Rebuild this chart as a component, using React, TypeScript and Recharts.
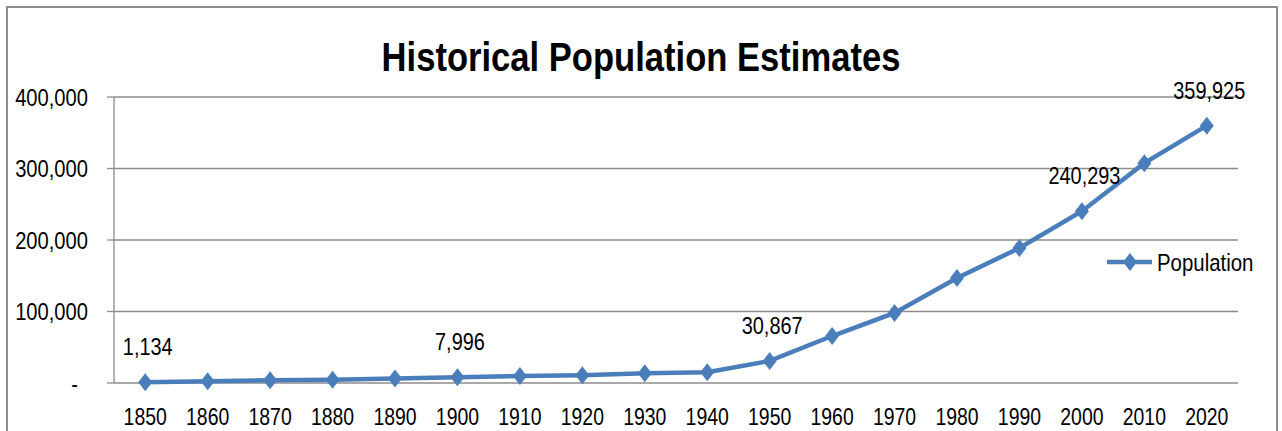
import React from 'react';
import { LineChart, Line, XAxis, YAxis, CartesianGrid, LabelList } from 'recharts';

const title = 'Historical Population Estimates';
const seriesName = 'Population';
const years = [1850, 1860, 1870, 1880, 1890, 1900, 1910, 1920, 1930, 1940, 1950, 1960, 1970, 1980, 1990, 2000, 2010, 2020];
const population = [1134, 2500, 3800, 4700, 6200, 7996, 9800, 10800, 13500, 15000, 30867, 65700, 98000, 146800, 188800, 240293, 307500, 359925];
const labeledYears = [1850, 1900, 1950, 2000, 2020];
const yTicks = [0, 100000, 200000, 300000, 400000];

const data = years.map((year, i) => ({ year, population: population[i] }));
const boundaryTicks = [...years.map((y) => y - 5), years[years.length - 1] + 5];
const xDomain = [years[0] - 5, years[years.length - 1] + 5];

const BLUE = '#4a7ebb';
const GRID = '#8c8c8c';
const FONT = "'Liberation Sans', Arial, sans-serif";
const FS = 24;

const fmt = (v: number) => v.toLocaleString('en-US');

// text narrowed horizontally around its anchor point
const SText = (p: {
  x: number; y: number; sx: number; anchor: 'start' | 'middle' | 'end'; dy?: string;
  size?: number; weight?: string; children: React.ReactNode;
}) => (
  <text
    transform={`translate(${p.x},${p.y}) scale(${p.sx},1)`}
    x={0}
    y={0}
    dy={p.dy}
    textAnchor={p.anchor}
    fontFamily={FONT}
    fontSize={p.size ?? FS}
    fontWeight={p.weight ?? 'normal'}
    fill="#000"
  >
    {p.children}
  </text>
);

const Diamond = (props: any) => {
  const { cx, cy } = props;
  if (cx == null || cy == null) return null;
  return <polygon points={`${cx},${cy - 9} ${cx + 7},${cy} ${cx},${cy + 9} ${cx - 7},${cy}`} fill={BLUE} />;
};

const YTick = (props: any) => {
  const { x, y, payload } = props;
  const v = payload.value as number;
  return (
    <SText x={v === 0 ? x - 10 : x} y={y} dy="0.355em" anchor="end" sx={0.84}>
      {v === 0 ? '-' : fmt(v)}
    </SText>
  );
};

const XTick = (props: any) => {
  const { x, y, payload } = props;
  return (
    <SText x={x} y={y} dy="0.71em" anchor="middle" sx={0.81}>
      {payload.value}
    </SText>
  );
};

const PointLabel = (props: any) => {
  const { x, y, value, index } = props;
  if (!labeledYears.includes(years[index])) return null;
  return (
    <SText x={x + 2.5} y={y - 27} anchor="middle" sx={0.83}>
      {fmt(value)}
    </SText>
  );
};

export default function App() {
  return (
    <div style={{ position: 'absolute', left: 0, top: 0, width: 1282, height: 431, overflow: 'hidden', background: '#fff' }}>
      <div style={{ position: 'absolute', left: 6, top: 6, width: 1272, height: 520, border: `2px solid ${GRID}`, boxSizing: 'border-box' }} />
      <div style={{ position: 'absolute', left: 0, top: 0 }}>
        <LineChart width={1282} height={431} data={data} margin={{ top: 97, right: 44, left: 14, bottom: 0 }}>
          <CartesianGrid horizontal vertical={false} stroke={GRID} strokeWidth={1.3} xAxisId="labels" />
          <XAxis
            xAxisId="marks"
            dataKey="year"
            type="number"
            domain={xDomain}
            ticks={boundaryTicks}
            interval={0}
            tick={false}
            tickSize={9}
            height={0}
            stroke={GRID}
            strokeWidth={1.3}
            allowDataOverflow
          />
          <XAxis
            xAxisId="labels"
            dataKey="year"
            type="number"
            domain={xDomain}
            ticks={years}
            interval={0}
            axisLine={false}
            tickLine={false}
            tickSize={8}
            tickMargin={17}
            height={48}
            tick={<XTick />}
            allowDataOverflow
          />
          <YAxis
            domain={[0, 400000]}
            ticks={yTicks}
            interval={0}
            width={100}
            tickSize={7}
            tickMargin={19}
            stroke={GRID}
            strokeWidth={1.3}
            tick={<YTick />}
          />
          <Line
            xAxisId="labels"
            dataKey="population"
            name={seriesName}
            stroke={BLUE}
            strokeWidth={4.5}
            dot={<Diamond />}
            activeDot={false}
            isAnimationActive={false}
          >
            <LabelList dataKey="population" content={<PointLabel />} />
          </Line>
        </LineChart>
      </div>
      <svg width={1282} height={431} style={{ position: 'absolute', left: 0, top: 0, pointerEvents: 'none' }}>
        <SText x={641} y={71} anchor="middle" sx={0.865} size={40} weight="bold">
          {title}
        </SText>
        <line x1={1107} y1={262} x2={1152} y2={262} stroke={BLUE} strokeWidth={4.5} />
        <polygon points={`1130,253 1137,262 1130,271 1123,262`} fill={BLUE} />
        <SText x={1157} y={262} dy="0.355em" anchor="start" sx={0.85}>
          {seriesName}
        </SText>
      </svg>
    </div>
  );
}
